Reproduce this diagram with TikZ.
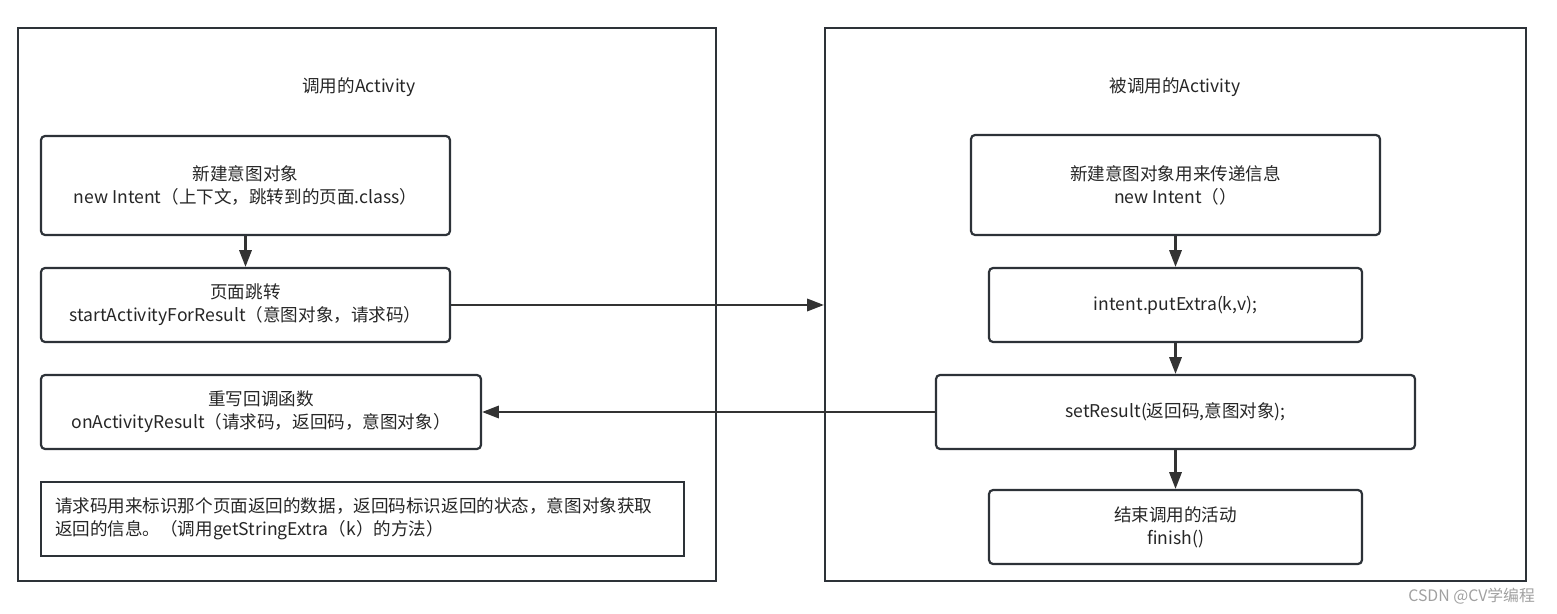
\documentclass[tikz,border=0pt]{standalone}
\usepackage{fontspec}
\setmainfont{Noto Sans CJK SC}
\usetikzlibrary{arrows.meta}
\definecolor{lineGray}{RGB}{45,50,56}
\definecolor{markGray}{RGB}{160,160,160}
\newcommand{\px}{0.02cm}
\newcommand{\flowBox}[6]{%%
  \node[boxStyle,minimum width=#4*\px,minimum height=#5*\px] (#1) at (#2,#3) {#6};
}

\begin{document}
\begin{tikzpicture}[%%
  x=0.02cm,y=-0.02cm,
  every node/.style={font=\fontsize{10}{13}\selectfont,text=black!85},
  frameStyle/.style={draw=lineGray,line width=1.25pt,inner sep=0pt},
  boxStyle/.style={draw=lineGray,line width=1.25pt,rounded corners=2.3pt,align=center,inner sep=0pt},
  noteStyle/.style={draw=lineGray,line width=1.25pt,align=left,inner xsep=14*\px,inner ysep=0pt},
  arrowStyle/.style={-{Triangle[length=9.5pt,width=7pt]},line width=1.25pt,draw=black!80}
]
\useasboundingbox (0,0) rectangle (1557,614);
%%
%% The two activities.
\node[frameStyle,minimum width=698*\px,minimum height=553*\px] (callerFrame) at (367,304.5) {};
\node (callerTitle) at (359,87) {调用的Activity};
\node[frameStyle,minimum width=701*\px,minimum height=553*\px] (calleeFrame) at (1175.5,304.5) {};
\node (calleeTitle) at (1175,87) {被调用的Activity};
%%
%% The calling activity.
\flowBox{newIntent}{245.5}{185.5}{409}{99}{新建意图对象\\new Intent（上下文，跳转到的页面.class）}
\flowBox{startFor}{245.5}{305}{409}{74}{页面跳转\\startActivityForResult（意图对象，请求码）}
\flowBox{onResult}{261}{412}{440}{74}{重写回调函数\\onActivityResult（请求码，返回码，意图对象）}
\node[noteStyle,text width=615*\px,minimum height=74*\px] (codeNote) at (362.5,519)
  {请求码用来标识那个页面返回的数据，返回码标识返回的状态，意图对象获取\\返回的信息。（调用getStringExtra（k）的方法）};
%%
%% The called activity.
\flowBox{resIntent}{1175.5}{185}{409}{100}{新建意图对象用来传递信息\\new Intent（）}
\flowBox{putExtra}{1175.5}{305}{373}{74}{intent.putExtra(k,v);}
\flowBox{setResult}{1175.5}{412}{479}{74}{setResult(返回码,意图对象);}
\flowBox{finishBox}{1175.5}{527}{373}{74}{结束调用的活动\\finish()}
%%
%% The arrows.
\draw[arrowStyle] (newIntent) -- (startFor);
\draw[arrowStyle] (startFor.east) -- (startFor.east -| calleeFrame.west);
\draw[arrowStyle] (resIntent) -- (putExtra);
\draw[arrowStyle] (putExtra) -- (setResult);
\draw[arrowStyle] (setResult) -- (finishBox);
\draw[arrowStyle] (setResult.west) -- (onResult.east);
%%
%% The watermark.
\node[anchor=east,font=\fontsize{9}{11}\selectfont,text=markGray] (watermark) at (1541,596) {CSDN @CV学编程};
\end{tikzpicture}
\end{document}
